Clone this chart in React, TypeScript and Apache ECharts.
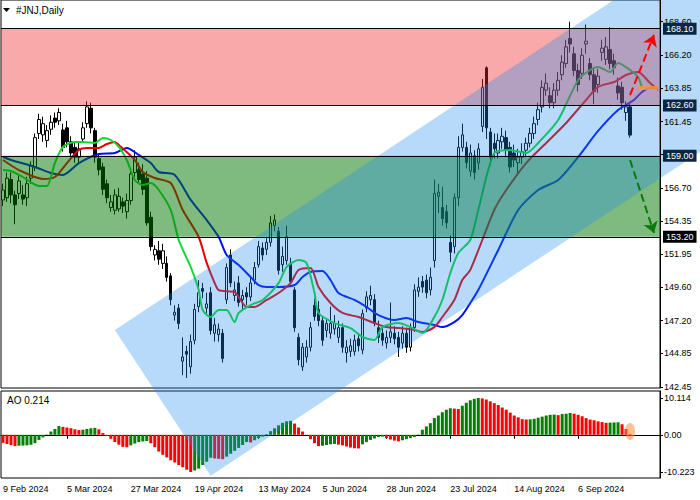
import React, { useEffect, useRef } from 'react';
import * as echarts from 'echarts';

const FONT = '"Liberation Sans", Arial, sans-serif';
const CHART_W = 700;
const GRID_LEFT = 1;
const GRID_RIGHT = 40;

// ---- calendar ----
const FIRST_DAY = '2024-02-09';
const HOLIDAYS = ['2024-02-19', '2024-03-29', '2024-05-27', '2024-06-19', '2024-07-04', '2024-09-02'];
const CATEGORY_COUNT = 165;
const LABEL_DATES = ['2024-02-09', '2024-03-05', '2024-03-27', '2024-04-19', '2024-05-13', '2024-06-05', '2024-06-28', '2024-07-23', '2024-08-14', '2024-09-06'];
const MONTHS = ['Jan', 'Feb', 'Mar', 'Apr', 'May', 'Jun', 'Jul', 'Aug', 'Sep', 'Oct', 'Nov', 'Dec'];

// ---- price data (JNJ daily) ----
const opens = [155.84, 156.0, 157.3, 156.2, 156.3, 156.2, 156.0, 157.4, 158.2, 160.6, 160.5, 160.1, 160.9, 161.7, 161.5, 160.85, 161.0, 160.0, 159.6, 158.9, 160.2, 161.3, 162.4, 160.8, 158.8, 158.2, 157.0, 155.3, 155.1, 155.2, 155.7, 155.0, 155.8, 157.8, 158.0, 157.7, 157.4, 154.6, 151.9, 152.2, 151.3, 151.3, 150.4, 147.6, 148.1, 144.3, 145.0, 143.9, 145.8, 148.2, 149.5, 148.1, 149.2, 146.3, 146.2, 146.3, 148.7, 151.9, 149.0, 149.9, 148.7, 149.2, 148.9, 150.1, 151.2, 152.4, 152.3, 152.8, 154.0, 153.6, 151.2, 151.5, 151.3, 149.4, 146.0, 143.9, 144.6, 145.3, 148.3, 148.0, 147.2, 146.5, 146.3, 146.6, 146.0, 146.7, 144.9, 145.0, 145.0, 145.9, 145.1, 148.1, 148.7, 148.7, 146.7, 146.3, 145.6, 146.0, 146.3, 146.0, 145.6, 146.3, 145.3, 146.7, 149.3, 150.0, 150.1, 149.4, 151.5, 156.1, 155.3, 155.0, 152.8, 152.5, 156.0, 159.6, 159.6, 157.9, 159.0, 158.5, 161.1, 165.3, 160.7, 159.9, 159.2, 160.0, 160.3, 159.6, 159.2, 158.5, 158.9, 159.4, 159.9, 160.6, 161.6, 162.5, 163.7, 163.3, 162.8, 163.7, 164.8, 165.6, 167.4, 166.3, 165.1, 164.9, 167.0, 165.6, 164.8, 164.1, 166.4, 165.9, 166.6, 165.8, 164.0, 163.9, 162.1, 162.5];
const closes = [156.55, 157.4, 156.2, 155.5, 157.2, 155.9, 157.0, 158.3, 160.3, 161.6, 161.3, 160.8, 161.4, 161.4, 162.1, 159.6, 160.0, 159.2, 158.9, 159.5, 161.0, 162.5, 161.0, 158.9, 158.0, 156.6, 156.0, 155.7, 156.2, 156.1, 155.4, 155.8, 157.7, 158.9, 157.3, 156.6, 154.2, 152.5, 152.3, 151.6, 152.2, 150.3, 148.7, 147.8, 147.0, 144.6, 144.8, 145.7, 148.0, 149.2, 149.3, 148.4, 146.5, 146.9, 146.6, 144.5, 151.0, 149.9, 149.4, 148.5, 149.0, 148.9, 149.9, 151.0, 152.5, 151.9, 152.8, 154.2, 154.4, 150.8, 151.8, 153.2, 150.0, 146.7, 144.4, 145.3, 145.3, 146.7, 147.5, 147.2, 145.8, 147.0, 147.0, 147.0, 146.7, 145.3, 145.3, 145.4, 145.8, 145.4, 147.7, 148.9, 149.0, 147.0, 146.0, 145.8, 146.0, 146.4, 145.9, 145.3, 146.3, 145.3, 146.7, 149.4, 149.6, 149.6, 149.2, 150.3, 156.3, 156.4, 154.5, 154.2, 152.1, 156.0, 159.6, 160.5, 158.5, 159.2, 157.8, 159.5, 163.9, 161.0, 158.9, 159.5, 160.1, 160.4, 159.4, 158.2, 158.7, 158.9, 159.3, 159.9, 160.6, 161.3, 162.3, 163.9, 164.2, 162.8, 163.7, 164.4, 165.7, 166.8, 167.0, 165.1, 164.1, 166.2, 167.2, 164.8, 163.6, 164.7, 166.7, 166.8, 165.6, 165.3, 163.5, 162.8, 162.5, 160.48];
const lows = [155.4, 155.7, 155.6, 154.1, 155.9, 155.5, 155.4, 157.0, 157.9, 160.2, 160.0, 159.6, 160.5, 161.0, 161.2, 159.3, 159.6, 158.9, 158.5, 158.5, 159.9, 161.0, 160.6, 158.5, 157.6, 156.2, 155.6, 155.0, 154.8, 155.0, 154.9, 154.5, 155.5, 157.5, 157.0, 156.2, 154.0, 152.2, 151.5, 151.2, 150.9, 150.0, 148.3, 147.2, 146.6, 143.3, 143.1, 143.4, 145.5, 147.8, 148.8, 147.7, 146.2, 145.7, 145.7, 144.2, 148.4, 149.6, 148.6, 148.2, 148.0, 148.3, 148.6, 149.8, 151.0, 151.5, 151.9, 152.5, 153.6, 150.5, 150.7, 151.2, 149.8, 146.4, 144.0, 143.6, 144.2, 145.0, 147.2, 146.8, 145.4, 146.0, 145.9, 146.2, 145.6, 144.9, 144.2, 144.6, 144.7, 145.0, 144.8, 147.8, 148.3, 146.8, 145.6, 145.4, 145.2, 145.6, 145.5, 144.6, 145.2, 144.9, 145.0, 146.4, 148.9, 149.2, 148.8, 149.0, 151.0, 154.9, 154.0, 153.8, 151.4, 152.0, 155.4, 159.3, 158.1, 157.5, 157.3, 158.0, 160.7, 160.2, 158.3, 158.8, 158.8, 159.5, 159.0, 157.8, 158.2, 157.6, 158.4, 159.0, 159.6, 160.2, 161.2, 162.1, 163.3, 162.4, 162.4, 163.3, 164.4, 165.3, 166.4, 164.7, 163.6, 164.5, 166.3, 164.4, 162.7, 163.5, 165.8, 165.5, 165.2, 164.8, 163.0, 162.3, 161.5, 160.3];
const highs = [157.0, 157.8, 157.8, 156.5, 157.6, 156.9, 157.5, 158.6, 160.6, 162.0, 161.8, 161.2, 161.9, 162.1, 162.4, 161.3, 161.5, 160.4, 160.0, 160.0, 161.4, 162.9, 162.8, 161.0, 159.2, 158.5, 157.3, 156.2, 156.6, 156.7, 156.0, 156.3, 158.0, 159.4, 158.5, 158.4, 157.9, 155.0, 152.6, 152.9, 152.7, 151.8, 150.6, 148.3, 148.4, 146.0, 145.4, 146.2, 148.4, 150.1, 149.9, 149.2, 149.6, 147.4, 147.0, 146.6, 151.3, 152.3, 150.0, 150.4, 149.4, 149.6, 150.3, 151.4, 152.9, 152.8, 153.1, 154.7, 154.8, 153.9, 152.5, 154.0, 151.7, 149.6, 146.3, 145.6, 145.8, 147.1, 148.8, 148.6, 147.5, 147.4, 148.2, 147.6, 147.2, 147.0, 145.8, 145.9, 146.2, 146.3, 148.0, 149.3, 149.7, 149.1, 147.2, 146.8, 146.5, 148.5, 146.8, 146.4, 146.8, 146.7, 147.0, 149.8, 150.3, 150.4, 150.5, 151.0, 157.3, 157.0, 156.8, 155.5, 153.3, 156.3, 160.4, 161.3, 160.0, 159.8, 159.4, 159.9, 164.5, 165.4, 161.0, 160.6, 160.6, 161.0, 160.8, 160.0, 159.8, 159.5, 159.9, 160.3, 161.0, 161.8, 162.8, 164.4, 164.9, 163.9, 164.2, 165.0, 166.2, 167.3, 168.6, 166.8, 165.6, 166.7, 168.4, 166.0, 165.2, 165.2, 167.3, 167.5, 168.2, 166.3, 164.6, 164.3, 162.9, 162.8];

// ---- Alligator lines, read as [bar index, price] ----
const jawPoints = [[0, 158.91], [2, 158.7], [8, 158.2], [12, 157.77], [15, 157.63], [19, 158.48], [24, 159.13], [28, 159.2], [31, 159.56], [34, 159.06], [37, 158.48], [39, 157.84], [43, 157.63], [47, 155.84], [51, 154.4], [54, 153.19], [56, 151.9], [59, 151.18], [62, 150.32], [64, 149.75], [66, 149.61], [69, 149.61], [73, 149.75], [75, 150.32], [77, 150.68], [80, 150.75], [82, 150.11], [84, 149.18], [88, 148.68], [91, 148.18], [94, 147.6], [98, 147.25], [101, 147.39], [104, 147.1], [108, 146.89], [110, 146.74], [113, 147.1], [115, 147.6], [117, 148.46], [119, 149.39], [124, 152.26], [129, 155.12], [134, 156.55], [139, 157.27], [144, 158.91], [149, 160.78], [154, 162.28], [158, 163.0], [160, 163.57], [162, 163.85], [164, 163.85]];
const teethPoints = [[0, 158.7], [4, 157.98], [10, 157.34], [13, 157.48], [16, 158.48], [19, 159.42], [21, 159.56], [24, 159.56], [26, 159.84], [28, 159.99], [29, 159.77], [33, 158.7], [35, 157.84], [38, 157.41], [42, 157.05], [45, 155.12], [49, 153.19], [51, 151.33], [53, 149.89], [54, 149.39], [58, 149.25], [59, 148.89], [61, 148.18], [63, 148.18], [66, 148.68], [69, 149.18], [72, 149.89], [74, 150.83], [77, 150.97], [79, 149.61], [82, 148.46], [85, 147.75], [89, 147.46], [93, 147.03], [96, 146.74], [99, 146.67], [103, 146.53], [105, 146.39], [108, 146.74], [110, 147.46], [113, 148.68], [115, 150.11], [117, 150.83], [123, 155.12], [126, 156.55], [131, 158.48], [136, 159.92], [141, 161.35], [146, 163.0], [149, 163.93], [153, 164.28], [156, 164.78], [159, 165.0], [162, 164.21], [164, 163.71]];
const lipsPoints = [[0, 157.98], [2, 157.91], [5, 157.48], [9, 156.84], [11, 156.84], [13, 158.49], [15, 159.63], [18, 159.99], [20, 159.99], [23, 159.92], [25, 160.27], [27, 160.13], [29, 159.63], [31, 158.7], [33, 157.27], [35, 156.91], [37, 157.05], [39, 156.55], [42, 155.12], [44, 152.97], [47, 151.04], [49, 149.39], [50, 147.96], [52, 147.46], [54, 147.96], [56, 147.96], [58, 147.1], [59, 147.75], [62, 148.32], [65, 148.68], [69, 149.89], [71, 151.04], [74, 151.54], [76, 151.33], [78, 149.18], [79, 147.75], [83, 147.03], [87, 146.67], [90, 146.03], [93, 145.81], [95, 146.74], [99, 147.03], [102, 146.74], [105, 146.32], [108, 147.46], [110, 148.68], [112, 150.61], [114, 152.04], [117, 152.97], [119, 155.12], [123, 159.2], [127, 159.42], [131, 159.2], [134, 159.92], [139, 161.56], [144, 164.43], [147, 165.14], [149, 165.36], [152, 165.0], [154, 165.64], [157, 165.14], [159, 164.64], [160, 163.85]];

// ---- Awesome Oscillator ----
const aoValues = [-2.2, -2.5, -2.8, -3.1, -3.0, -2.95, -2.9, -2.7, -2.3, -1.4, -0.7, 0.1, 0.9, 1.6, 2.4, 2.2, 2.0, 1.8, 1.5, 1.3, 1.4, 1.6, 1.8, 1.9, 1.5, 0.5, -0.3, -1.1, -2.0, -2.7, -3.3, -3.4, -2.9, -2.4, -2.0, -1.8, -1.7, -2.3, -3.4, -4.6, -5.5, -6.2, -7.0, -7.6, -8.3, -8.9, -9.6, -10.223, -9.8, -9.3, -8.3, -7.4, -6.3, -6.5, -6.6, -6.7, -6.0, -5.2, -4.4, -3.6, -2.8, -2.0, -2.1, -1.5, -0.9, -0.5, 0.2, 1.0, 1.8, 2.6, 3.3, 3.7, 3.85, 3.1, 2.0, 0.9, -0.1, -1.2, -2.3, -3.1, -3.0, -2.8, -2.6, -2.5, -2.7, -2.9, -3.2, -3.5, -3.7, -3.75, -2.6, -2.0, -1.4, -1.0, -0.6, -0.5, -0.9, -1.3, -1.6, -1.8, -1.5, -1.2, -0.9, -0.6, 0.1, 1.4, 2.3, 3.2, 4.6, 5.3, 6.2, 6.9, 7.3, 7.2, 7.1, 8.0, 8.8, 9.5, 9.9, 10.114, 10.0, 9.7, 9.2, 8.7, 8.2, 7.5, 6.9, 6.1, 5.3, 4.8, 4.3, 4.2, 4.25, 4.4, 4.7, 5.0, 5.3, 5.5, 5.55, 5.4, 5.7, 5.8, 6.0, 5.8, 5.5, 5.1, 4.6, 4.2, 4.0, 3.7, 3.5, 3.3, 3.35, 3.4, 3.45, 2.9, 1.6, 0.214];

// ---- axis ticks & levels ----
const PRICE_TICKS = [142.45, 144.85, 147.2, 149.6, 151.95, 154.35, 156.7, 159.1, 161.45, 163.85, 166.2, 168.6];
const PRICE_LABELS = [142.45, 144.85, 147.2, 149.6, 151.95, 154.35, 156.7, 161.45, 163.85, 166.2, 168.6];
const AO_TICKS = [-10.223, 0, 10.114];
const RED_ZONE = [162.6, 168.1];
const GREEN_ZONE = [153.2, 159.0];
const LAST_PRICE = 160.48;
const CHANNEL_UPPER = [[28, 146.53], [150, 169.6]];
const CHANNEL_LOWER_START = [52, 136.1];
const UP_ARROW = [[157, 163.35], [163, 167.65]];
const DOWN_ARROW = [[157, 158.7], [163, 153.47]];
const CONVERGENCE = [[159, 163.85], [164, 163.85]];
const AO_MARK = [157, 0.9];

function tradingDays(start: string, n: number): string[] {
  const out: string[] = [];
  const d = new Date(start + 'T00:00:00Z');
  while (out.length < n) {
    const dow = d.getUTCDay();
    const s = d.toISOString().slice(0, 10);
    if (dow !== 0 && dow !== 6 && !HOLIDAYS.includes(s)) out.push(s);
    d.setUTCDate(d.getUTCDate() + 1);
  }
  return out;
}

function fmtDate(s: string): string {
  const [y, m, d] = s.split('-');
  return `${Number(d)} ${MONTHS[Number(m) - 1]} ${y}`;
}

function buildOption() {
  const dates = tradingDays(FIRST_DAY, CATEGORY_COUNT);
  const showLabel = (_i: number, v: string) => LABEL_DATES.includes(v);
  const candles = opens.map((o, i) => [o, closes[i], lows[i], highs[i]]);
  const aoData = aoValues.map((v, i) => ({
    value: v,
    itemStyle: { color: i > 0 && v > aoValues[i - 1] ? '#008000' : '#ff0000' },
  }));
  const levelLabel = (bg: string) => ({
    show: true,
    position: 'end',
    distance: 3,
    formatter: (p: any) => Number(p.value).toFixed(2),
    backgroundColor: bg,
    color: '#ffffff',
    padding: [2, 3, 1, 3],
    fontSize: 9,
    fontFamily: FONT,
  });
  return {
    animation: false,
    backgroundColor: '#ffffff',
    textStyle: { fontFamily: FONT },
    grid: [
      { left: GRID_LEFT, right: GRID_RIGHT, top: 0, height: 388, show: true, borderColor: '#000', borderWidth: 1, backgroundColor: 'transparent' },
      { left: GRID_LEFT, right: GRID_RIGHT, top: 391, height: 87, show: true, borderColor: '#000', borderWidth: 1, backgroundColor: 'transparent' },
    ],
    xAxis: [
      { type: 'category', gridIndex: 0, data: dates, boundaryGap: true, axisLine: { show: false }, axisTick: { show: false }, axisLabel: { show: false }, splitLine: { show: false } },
      {
        type: 'category', gridIndex: 1, data: dates, boundaryGap: true,
        axisLine: { show: true, lineStyle: { color: '#000' } },
        axisTick: { show: true, interval: showLabel, alignWithLabel: true, length: 4, lineStyle: { color: '#000' } },
        axisLabel: { interval: showLabel, formatter: fmtDate, align: 'left', color: '#000', fontSize: 9, fontFamily: FONT, margin: 6 },
        splitLine: { show: false },
      },
    ],
    yAxis: [
      {
        type: 'value', gridIndex: 0, position: 'right', min: 142.38, max: 170.15, z: 10,
        axisLine: { show: true, lineStyle: { color: '#000' } },
        axisTick: { show: true, length: 3, customValues: PRICE_TICKS, lineStyle: { color: '#000' } },
        axisLabel: { customValues: PRICE_LABELS, formatter: (v: number) => v.toFixed(2), color: '#000', fontSize: 9, fontFamily: FONT, margin: 4 },
        splitLine: { show: false },
      },
      {
        type: 'value', gridIndex: 1, position: 'right', min: -11.87, max: 12.04, z: 10,
        axisLine: { show: true, lineStyle: { color: '#000' } },
        axisTick: { show: true, length: 3, customValues: AO_TICKS, lineStyle: { color: '#000' } },
        axisLabel: { customValues: AO_TICKS, formatter: (v: number) => (v === 0 ? '0.00' : v.toFixed(3)), color: '#000', fontSize: 9, fontFamily: FONT, margin: 4 },
        splitLine: { show: false },
      },
    ],
    series: [
      {
        type: 'candlestick', xAxisIndex: 0, yAxisIndex: 0, data: candles, barWidth: 3, z: 2,
        itemStyle: { color: '#ffffff', color0: '#000000', borderColor: '#000000', borderColor0: '#000000', borderWidth: 1 },
      },
      { type: 'line', xAxisIndex: 0, yAxisIndex: 0, data: jawPoints, showSymbol: false, smooth: 0.25, z: 3, lineStyle: { color: '#0010f0', width: 2 } },
      { type: 'line', xAxisIndex: 0, yAxisIndex: 0, data: teethPoints, showSymbol: false, smooth: 0.25, z: 3, lineStyle: { color: '#e80000', width: 2 } },
      { type: 'line', xAxisIndex: 0, yAxisIndex: 0, data: lipsPoints, showSymbol: false, smooth: 0.25, z: 3, lineStyle: { color: '#10d830', width: 2 } },
      {
        type: 'line', xAxisIndex: 0, yAxisIndex: 0, data: [], z: 20, silent: true,
        markLine: {
          silent: true, z: 20, symbol: ['none', 'none'],
          lineStyle: { color: '#000', width: 1, type: 'solid' },
          data: [
            { yAxis: RED_ZONE[1], label: levelLabel('#0b2545') },
            { yAxis: RED_ZONE[0], label: levelLabel('#0b2545') },
            { yAxis: LAST_PRICE, label: levelLabel('#0b2545'), lineStyle: { opacity: 0 } },
            { yAxis: GREEN_ZONE[1], label: levelLabel('#0b2545') },
            { yAxis: GREEN_ZONE[0], label: levelLabel('#000000') },
            [
              { coord: CONVERGENCE[0], lineStyle: { color: 'rgba(245,150,60,0.85)', width: 4, type: 'solid' }, label: { show: false }, symbol: 'none' },
              { coord: CONVERGENCE[1], symbol: 'none' },
            ],
            [
              { coord: UP_ARROW[0], lineStyle: { color: '#ff0000', width: 2, type: 'dashed' }, label: { show: false }, symbol: 'none' },
              { coord: UP_ARROW[1], symbol: 'arrow', symbolSize: 11 },
            ],
            [
              { coord: DOWN_ARROW[0], lineStyle: { color: '#0a7a0a', width: 2, type: 'dashed' }, label: { show: false }, symbol: 'none' },
              { coord: DOWN_ARROW[1], symbol: 'arrow', symbolSize: 11 },
            ],
          ],
        },
      },
      {
        type: 'bar', xAxisIndex: 1, yAxisIndex: 1, data: aoData, barWidth: 3, z: 2,
        markPoint: {
          silent: true, symbol: 'circle', symbolSize: [10, 17], z: 20,
          itemStyle: { color: 'rgba(255,140,60,0.55)' }, label: { show: false },
          data: [{ coord: AO_MARK }],
        },
      },
    ],
  };
}

export default function App() {
  const ref = useRef<HTMLDivElement>(null);
  useEffect(() => {
    const el = ref.current as HTMLDivElement;
    const chart = echarts.init(el, undefined, { renderer: 'svg' });
    chart.setOption(buildOption() as any);
    const toPx = (p: number[]) => chart.convertToPixel({ gridIndex: 0 } as any, p) as unknown as number[];
    const a = toPx(CHANNEL_UPPER[0]);
    const u = toPx(CHANNEL_UPPER[1]);
    const b = toPx(CHANNEL_LOWER_START);
    const dx = u[0] - a[0];
    const dy = u[1] - a[1];
    const k = 3;
    const points = [a, [a[0] + dx * k, a[1] + dy * k], [b[0] + dx * k, b[1] + dy * k], b];
    const zoneRect = (lo: number, hi: number, fill: string) => {
      const yHi = toPx([0, hi])[1];
      const yLo = toPx([0, lo])[1];
      return {
        type: 'rect',
        shape: { x: GRID_LEFT, y: yHi, width: CHART_W - GRID_LEFT - GRID_RIGHT, height: yLo - yHi },
        style: { fill },
        z: 5,
        silent: true,
      };
    };
    chart.setOption({
      graphic: [
        zoneRect(RED_ZONE[0], RED_ZONE[1], 'rgba(240,40,40,0.4)'),
        zoneRect(GREEN_ZONE[0], GREEN_ZONE[1], 'rgba(0,120,0,0.5)'),
        { type: 'polygon', shape: { points }, style: { fill: 'rgba(30,140,240,0.32)' }, z: 6, silent: true },
        { type: 'polygon', shape: { points: [[3, 8], [10, 8], [6.5, 12]] }, style: { fill: '#000' }, z: 30, silent: true },
        { type: 'text', x: 16, y: 5, style: { text: '#JNJ,Daily', fill: '#000', fontSize: 10, fontFamily: FONT }, z: 30, silent: true },
        { type: 'text', x: 7, y: 395, style: { text: 'AO 0.214', fill: '#000', fontSize: 10, fontFamily: FONT }, z: 30, silent: true },
      ],
    } as any);
    return () => chart.dispose();
  }, []);
  return <div ref={ref} style={{ position: 'fixed', left: 0, top: 0, width: 700, height: 500 }} />;
}
